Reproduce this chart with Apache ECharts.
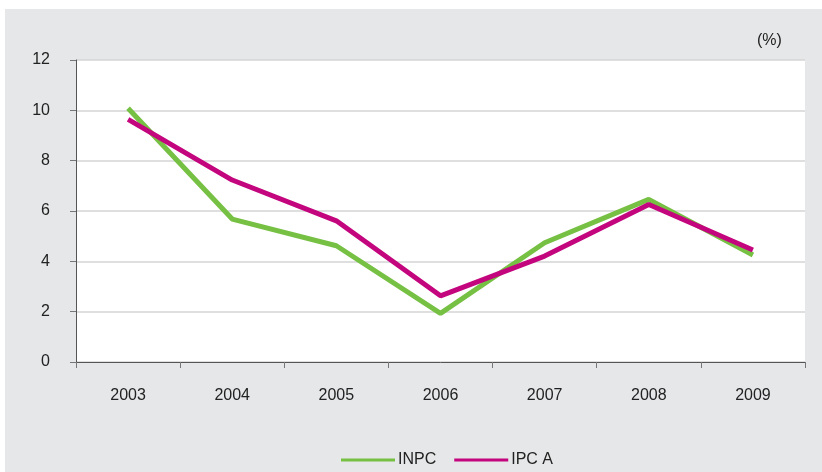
<!DOCTYPE html>
<html>
<head>
<meta charset="utf-8">
<script src="https://cdn.jsdelivr.net/npm/echarts@6/dist/echarts.min.js"></script>
<style>html,body{margin:0;padding:0;background:#fff;}#c{width:822px;height:472px;}</style>
</head>
<body>
<div id="c"></div>
<script>
const categories = ['2003','2004','2005','2006','2007','2008','2009'];
const inpc = [10.08, 5.68, 4.62, 1.93, 4.74, 6.46, 4.25];
const ipca = [9.64, 7.23, 5.61, 2.63, 4.21, 6.26, 4.45];
const yTicks = [0, 2, 4, 6, 8, 10, 12];
const FONT = '"Liberation Sans", Arial, sans-serif';
const chart = echarts.init(document.getElementById('c'), null, {renderer: 'canvas'});
chart.setOption({
  backgroundColor: '#ffffff',
  animation: false,
  graphic: [
    {type: 'rect', z: -10, silent: true, shape: {x: 5, y: 9, width: 817, height: 463}, style: {fill: '#e6e7e8'}},
    {type: 'text', left: 757, top: 33, style: {text: '(%)', fill: '#222', font: '16px ' + FONT}}
  ],
  grid: {left: 76, right: 17, top: 60, bottom: 110, show: true, backgroundColor: '#ffffff', borderWidth: 0},
  legend: {
    left: 336, top: 447,
    itemWidth: 54, itemHeight: 3, itemGap: 18,
    icon: 'rect',
    textStyle: {fontFamily: FONT, fontSize: 16, color: '#222', padding: [0, 0, 0, -2]},
    data: ['INPC', 'IPC A']
  },
  xAxis: {
    type: 'category', data: categories, boundaryGap: true,
    axisLine: {lineStyle: {color: '#555', width: 1}},
    axisTick: {show: true, interval: 0, length: 6, lineStyle: {color: '#777'}},
    axisLabel: {margin: 26, fontFamily: FONT, fontSize: 16, color: '#222'}
  },
  yAxis: {
    type: 'value', min: yTicks[0], max: yTicks[yTicks.length - 1], interval: 2,
    axisLine: {show: true, lineStyle: {color: '#555', width: 1}},
    axisTick: {show: true, length: 6, lineStyle: {color: '#777'}},
    axisLabel: {margin: 26, fontFamily: FONT, fontSize: 16, color: '#222'},
    splitLine: {lineStyle: {color: '#d4d4d4', width: 1.5}}
  },
  series: [
    {name: 'INPC', type: 'line', data: inpc, symbol: 'none', color: '#76c043',
     lineStyle: {width: 5, color: '#76c043'}, z: 2},
    {name: 'IPC A', type: 'line', data: ipca, symbol: 'none', color: '#c4067e',
     lineStyle: {width: 5, color: '#c4067e'}, z: 3}
  ]
});
</script>
</body>
</html>
